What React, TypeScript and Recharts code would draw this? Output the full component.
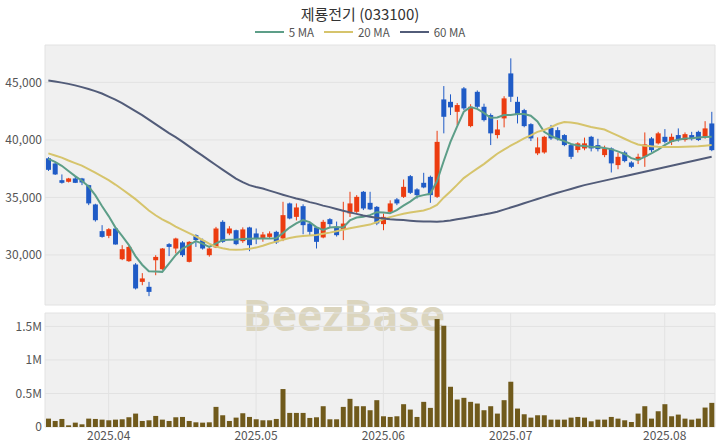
import { ComposedChart, Bar, Line, XAxis, YAxis, CartesianGrid } from 'recharts'

// KRX trading days shown in the chart
const tradingDays: Array<[string, number[]]> = [
  ['2025-03', [19, 20, 21, 24, 25, 26, 27, 28, 31]],
  ['2025-04', [1, 2, 3, 4, 7, 8, 9, 10, 11, 14, 15, 16, 17, 18, 21, 22, 23, 24, 25, 28, 29, 30]],
  ['2025-05', [2, 7, 8, 9, 12, 13, 14, 15, 16, 19, 20, 21, 22, 23, 26, 27, 28, 29, 30]],
  ['2025-06', [2, 4, 5, 9, 10, 11, 12, 13, 16, 17, 18, 19, 20, 23, 24, 25, 26, 27, 30]],
  ['2025-07', [1, 2, 3, 4, 7, 8, 9, 10, 11, 14, 15, 16, 17, 18, 21, 22, 23, 24, 25, 28, 29, 30, 31]],
  ['2025-08', [1, 4, 5, 6, 7, 8, 11, 12]],
]
const dates = tradingDays.flatMap(([m, days]) => days.map((d) => `${m}-${String(d).padStart(2, '0')}`))

const opens = [
  38400, 37950, 36500, 36360, 36650, 36650, 36070, 34390, 32070, 31660,
  32300, 29630, 29460, 29170, 27660, 27230, 29540, 28760, 30940, 30560,
  31090, 29400, 31720, 31280, 29980, 30650, 32880, 31870, 32150, 31200,
  32390, 31870, 31430, 31570, 32010, 31430, 34480, 33310, 34240, 32730,
  32390, 31520, 33110, 32440, 32170, 33610, 33750, 35490, 34530, 34180,
  32680, 33750, 34830, 35050, 36850, 35700, 36270, 36790, 35050, 43520,
  43310, 42440, 44480, 41200, 44180, 42880, 42160, 40420, 41870, 45780,
  43310, 42590, 41370, 38830, 38910, 41050, 40850, 40420, 39550, 39120,
  39260, 40270, 39550, 38680, 39260, 37810, 38910, 38040, 38240, 38530,
  40130, 39700, 40270, 39830, 40420, 39990, 40420, 40700, 40270, 41430,
]
const highs = [
  38500, 38050, 37000, 36700, 36850, 36700, 36100, 34450, 32590, 32330,
  32350, 30850, 30820, 29290, 28420, 27660, 29980, 30600, 31030, 31500,
  31200, 31200, 31800, 31420, 30650, 32440, 33020, 32500, 32200, 32400,
  32450, 32300, 32000, 32050, 32100, 34620, 34550, 34480, 34400, 32800,
  32450, 33050, 33200, 32900, 34620, 35490, 35200, 35560, 35490, 34250,
  33600, 34750, 34950, 36560, 36950, 35800, 37140, 36900, 40790, 44680,
  43960, 43200, 44600, 43100, 44300, 43150, 42300, 41720, 43800, 47090,
  43750, 42700, 41450, 40220, 40350, 41300, 41100, 40500, 39650, 39800,
  40200, 40350, 40100, 39500, 39350, 38900, 39050, 38150, 38800, 40650,
  40250, 40700, 40940, 40550, 41000, 40650, 40700, 40800, 41630, 42440,
]
const lows = [
  37300, 36950, 36200, 36300, 36250, 36070, 34330, 32900, 31500, 31460,
  30900, 29550, 29400, 27000, 27370, 26420, 28240, 28700, 29900, 30130,
  29830, 29350, 30700, 30470, 29850, 30600, 31050, 31720, 30850, 31050,
  30330, 30940, 31150, 31450, 30950, 31200, 33100, 33000, 31800, 31650,
  30560, 31450, 32400, 31600, 31290, 33300, 33650, 33900, 33900, 32590,
  32150, 33600, 34330, 34950, 35300, 34900, 35800, 34530, 34950, 40570,
  42160, 41290, 42600, 41100, 42700, 41600, 39550, 40130, 41090, 43300,
  41430, 41100, 39900, 38680, 38800, 40000, 39950, 39450, 38330, 38900,
  39100, 39000, 39000, 38500, 37170, 37450, 38050, 37550, 37900, 37660,
  38950, 39600, 39700, 39550, 39850, 39850, 39950, 39900, 40100, 39020,
]
const closes = [
  37400, 37000, 36270, 36650, 36270, 36300, 34480, 33020, 31570, 32240,
  30910, 30500, 30700, 27090, 27960, 26790, 29830, 30560, 30700, 31430,
  29980, 31140, 31300, 30560, 30560, 32300, 31140, 32300, 30940, 32220,
  30850, 31430, 31780, 31870, 31090, 33460, 33170, 34130, 32590, 32010,
  31140, 32880, 32680, 31720, 32730, 34480, 35050, 34040, 33960, 32740,
  33310, 34480, 34480, 35920, 35400, 35200, 35870, 35200, 39830, 42010,
  42830, 43030, 42740, 42880, 42880, 41720, 40570, 40910, 43610, 43750,
  42160, 41200, 40130, 39350, 40270, 40130, 40070, 39550, 38530, 39700,
  39700, 39260, 39200, 39260, 37960, 38530, 38160, 37660, 38530, 39610,
  39110, 40570, 39830, 40270, 39990, 40500, 40070, 39990, 41000, 39110,
]
const volumes = [
  125000, 90000, 120000, 25000, 65000, 40000, 125000, 120000, 110000, 100000,
  110000, 115000, 145000, 200000, 90000, 100000, 165000, 110000, 90000, 145000,
  150000, 90000, 70000, 65000, 70000, 300000, 175000, 90000, 140000, 205000,
  150000, 115000, 100000, 100000, 120000, 566000, 210000, 210000, 210000, 135000,
  145000, 310000, 115000, 115000, 300000, 420000, 310000, 310000, 250000, 400000,
  160000, 150000, 160000, 340000, 260000, 150000, 375000, 285000, 1610000, 1510000,
  600000, 410000, 435000, 375000, 350000, 250000, 310000, 200000, 400000, 675000,
  275000, 190000, 140000, 175000, 175000, 110000, 110000, 110000, 140000, 150000,
  140000, 85000, 110000, 110000, 150000, 125000, 100000, 75000, 200000, 310000,
  125000, 235000, 340000, 160000, 185000, 125000, 110000, 125000, 290000, 360000,
]
const ma5 = [
  38350, 38100, 37750, 37300, 36850, 36450, 35950, 35200, 34250, 33380,
  32400, 31650, 30880, 29900, 29150, 28580, 28560, 28530, 29250, 29980,
  30550, 30850, 31200, 30980, 30700, 30990, 31290, 31320, 31340, 31380,
  31400, 31430, 31430, 31430, 31450, 31900, 32380, 32750, 33030, 32850,
  32420, 32180, 32380, 32420, 32380, 33000, 33250, 33320, 33460, 33720,
  33680, 33620, 33900, 34280, 34640, 35060, 35200, 35320, 36400, 38150,
  39800, 41150, 42450, 42850, 42700, 42350, 41920, 41950, 42160, 42160,
  42250, 42260, 42100, 41600, 40700, 40350, 40100, 39900, 39650, 39520,
  39480, 39400, 39380, 39300, 39200, 39000, 38780, 38420, 38250, 38530,
  38820, 39150, 39550, 39880, 40020, 40120, 40150, 40200, 40250, 40270,
]
const ma20 = [
  38830, 38650, 38460, 38210, 37980, 37760, 37470, 37150, 36840, 36510,
  36120, 35710, 35290, 34850, 34370, 33860, 33450, 33100, 32800, 32460,
  32180, 31900, 31620, 31300, 30980, 30720, 30580, 30480, 30460, 30480,
  30530, 30640, 30800, 31000, 31160, 31320, 31470, 31580, 31640, 31690,
  31740, 31840, 31940, 32060, 32200, 32320, 32430, 32530, 32640, 32840,
  33120, 33290, 33440, 33580, 33690, 33780, 33860, 34050, 34350, 34980,
  35520, 36090, 36680, 37100, 37500, 37900, 38350, 38800, 39160, 39500,
  39800, 40130, 40390, 40700, 40860, 41100, 41380, 41550, 41520, 41420,
  41280, 41130, 41020, 40900, 40640, 40380, 40100, 39830, 39600, 39500,
  39440, 39400, 39380, 39380, 39390, 39400, 39420, 39450, 39500, 39550,
]
const ma60 = [
  45160, 45070, 44980, 44870, 44740, 44590, 44420, 44240, 44030, 43770,
  43500, 43200, 42850, 42500, 42160, 41760, 41370, 40980, 40590, 40240,
  39850, 39440, 39030, 38630, 38220, 37820, 37420, 37030, 36640, 36330,
  36070, 35900, 35770, 35590, 35420, 35240, 35070, 34910, 34770, 34590,
  34460, 34290, 34160, 34000, 33850, 33700, 33570, 33430, 33330, 33240,
  33170, 33110, 33070, 33030, 32980, 32940, 32910, 32900, 32880, 32920,
  33000, 33100, 33200, 33300, 33410, 33510, 33630, 33760, 33940, 34120,
  34300, 34490, 34680, 34870, 35050, 35230, 35400, 35570, 35740, 35910,
  36070, 36200, 36330, 36460, 36590, 36720, 36850, 36980, 37110, 37240,
  37370, 37500, 37620, 37750, 37880, 38010, 38140, 38270, 38400, 38530,
]

const monthTicks = ['2025-04-01', '2025-05-02', '2025-06-02', '2025-07-01', '2025-08-01']
const priceTicks = [30000, 35000, 40000, 45000]
const volumeTicks = [0, 500000, 1000000, 1500000]

const maSeries = [
  { key: 'ma5', name: '5 MA', color: '#5d9e88' },
  { key: 'ma20', name: '20 MA', color: '#d6c46c' },
  { key: 'ma60', name: '60 MA', color: '#525c79' },
]

const UP = '#ec3c10'
const DOWN = '#1f5bc6'
const PANEL = '#f0f0f0'
const GRID = '#e2e2e2'
const FONT = "'Noto Sans CJK KR', 'Noto Sans', sans-serif"

const data = dates.map((date, i) => ({
  date,
  open: opens[i],
  high: highs[i],
  low: lows[i],
  close: closes[i],
  volume: volumes[i],
  ma5: ma5[i],
  ma20: ma20[i],
  ma60: ma60[i],
}))

// every 20th session gets a vertical grid line in the price panel
const gridTicks = dates.filter((_, i) => i % 20 === 0)

function Candle(props: any) {
  const { x, y, width, height, payload } = props
  if (!payload) return null
  const { open, close, high, low } = payload
  const color = close >= open ? UP : DOWN
  const top = Math.min(y, y + height)
  const h = Math.abs(height)
  const ratio = h / (high - low)
  const bodyTop = top + (high - Math.max(open, close)) * ratio
  const bodyH = Math.max(1, Math.abs(open - close) * ratio)
  const cx = x + width / 2
  return (
    <g>
      <line x1={cx} x2={cx} y1={top} y2={top + h} stroke={color} strokeWidth={1} />
      <rect x={x} y={bodyTop} width={width} height={bodyH} fill={color} />
    </g>
  )
}

const monthLabel = (d: string) => d.slice(0, 7).replace('-', '.')
const volLabel = (v: number) => (v === 0 ? '0' : `${v / 1000000}M`)

export default function App() {
  const tickStyle = { fontSize: 12, fill: '#555' }
  return (
    <div style={{ position: 'absolute', left: 0, top: 0, width: 720, height: 448, background: '#fff', fontFamily: FONT }}>
      <div style={{ position: 'absolute', left: 0, top: 3, width: 720, textAlign: 'center', fontSize: 15, color: '#333' }}>
        제룡전기 (033100)
      </div>
      <div
        style={{
          position: 'absolute',
          left: 0,
          top: 24,
          width: 720,
          display: 'flex',
          justifyContent: 'center',
          gap: 10,
          fontSize: 11.5,
          color: '#555',
          lineHeight: '16px',
        }}
      >
        {maSeries.map((s) => (
          <div key={s.key} style={{ display: 'flex', alignItems: 'center', gap: 5 }}>
            <div style={{ width: 29, height: 2, background: s.color }} />
            <span>{s.name}</span>
          </div>
        ))}
      </div>
      <div style={{ position: 'absolute', left: 45, top: 45, width: 670, height: 260, background: PANEL }} />
      <div style={{ position: 'absolute', left: 45, top: 313, width: 670, height: 114, background: PANEL }} />
      <div
        style={{
          position: 'absolute',
          left: 0,
          width: 688,
          top: 285,
          textAlign: 'center',
          fontSize: 43,
          fontWeight: 700,
          color: '#dbd5be',
          fontFamily: "'Open Sans', sans-serif",
        }}
      >
        BeezBase
      </div>
      <div style={{ position: 'absolute', left: 0, top: 0 }}>
        <ComposedChart width={720} height={310} data={data} margin={{ top: 45, right: 5, bottom: 4, left: 0 }}>
          <CartesianGrid stroke={GRID} />
          <XAxis dataKey="date" ticks={gridTicks} interval={0} tick={false} tickLine={false} axisLine={false} height={1} />
          <YAxis
            domain={[25650, 48250]}
            ticks={priceTicks}
            allowDataOverflow
            width={45}
            tickSize={0}
            tickMargin={3}
            axisLine={false}
            tick={tickStyle}
            tickFormatter={(v: number) => v.toLocaleString('en-US')}
          />
          <Bar dataKey={(d: any) => [d.low, d.high]} shape={<Candle />} barSize={5} isAnimationActive={false} />
          {maSeries.map((s) => (
            <Line key={s.key} dataKey={s.key} name={s.name} stroke={s.color} strokeWidth={2} dot={false} isAnimationActive={false} />
          ))}
        </ComposedChart>
      </div>
      <div style={{ position: 'absolute', left: 0, top: 305 }}>
        <ComposedChart width={720} height={143} data={data} margin={{ top: 8, right: 5, bottom: 0, left: 0 }}>
          <CartesianGrid stroke={GRID} />
          <XAxis
            dataKey="date"
            ticks={monthTicks}
            interval={0}
            tickFormatter={monthLabel}
            height={21}
            tickSize={0}
            tickMargin={4}
            axisLine={false}
            tick={tickStyle}
          />
          <YAxis
            domain={[0, 1700000]}
            ticks={volumeTicks}
            allowDataOverflow
            width={45}
            tickSize={0}
            tickMargin={3}
            axisLine={false}
            tick={tickStyle}
            tickFormatter={volLabel}
          />
          <Bar dataKey="volume" fill="#705a1c" barSize={5} isAnimationActive={false} />
        </ComposedChart>
      </div>
    </div>
  )
}
